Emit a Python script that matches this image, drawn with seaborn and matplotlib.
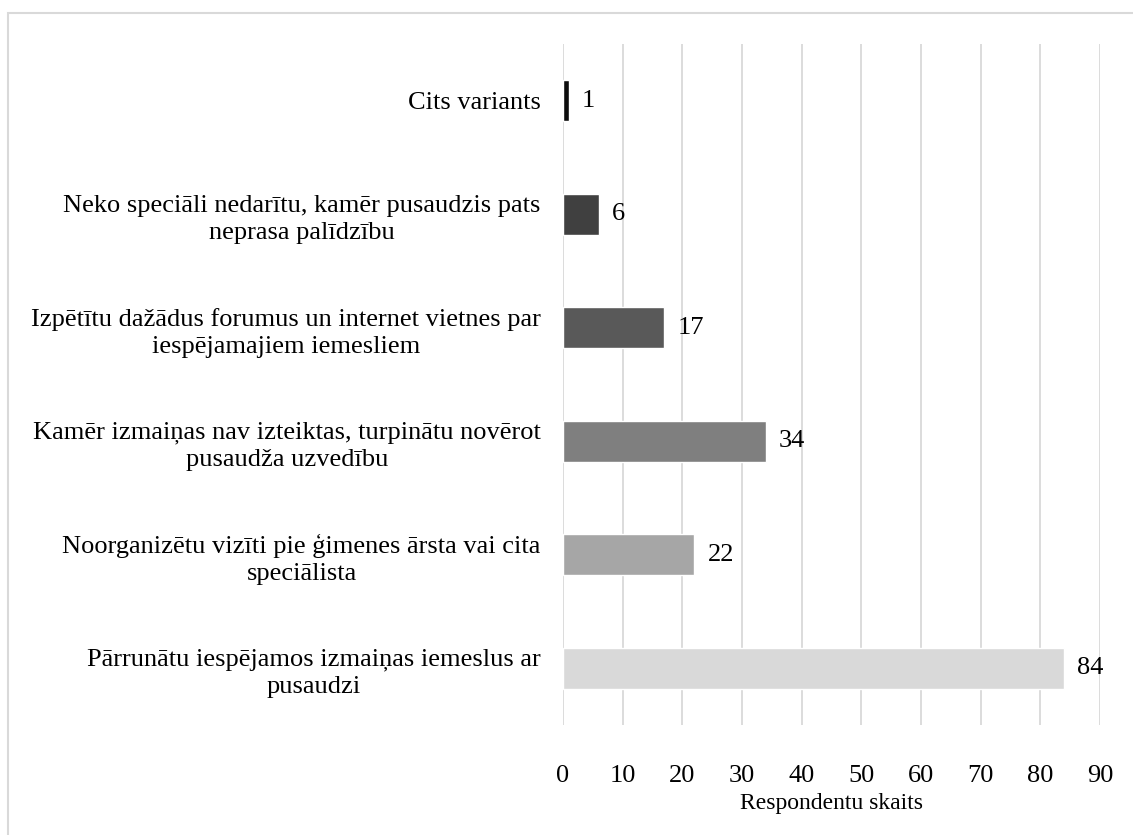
import matplotlib
matplotlib.use("Agg")
import matplotlib.pyplot as plt
import seaborn as sns
import pandas as pd
from matplotlib.patches import Rectangle

# Data (top to bottom)
categories = [
    "Cits variants",
    "Neko speciāli nedarītu, kamēr pusaudzis pats\nneprasa palīdzību",
    "Izpētītu dažādus forumus un internet vietnes par\niespējamajiem iemesliem",
    "Kamēr izmaiņas nav izteiktas, turpinātu novērot\npusaudža uzvedību",
    "Noorganizētu vizīti pie ģimenes ārsta vai cita\nspeciālista",
    "Pārrunātu iespējamos izmaiņas iemeslus ar\npusaudzi",
]
counts = [1, 6, 17, 34, 22, 84]
bar_colors = ["#0d0d0d", "#404040", "#595959", "#7f7f7f", "#a6a6a6", "#d9d9d9"]
x_ticks = [0, 10, 20, 30, 40, 50, 60, 70, 80, 90]

df = pd.DataFrame({"label": categories, "count": counts})

sns.set_style("white")
plt.rcParams["font.family"] = ["Liberation Serif", "DejaVu Serif"]
plt.rcParams["text.color"] = "black"
plt.rcParams["xtick.color"] = "black"
plt.rcParams["ytick.color"] = "black"
plt.rcParams["axes.labelcolor"] = "black"
fs = 19

fig = plt.figure(figsize=(11.33, 8.35), dpi=100)
ax = fig.add_axes([563 / 1133, 1 - 725 / 835, (1100 - 563) / 1133, (725 - 44) / 835])

sns.barplot(data=df, x="count", y="label", hue="label", palette=bar_colors,
            legend=False, width=0.36, saturation=1, ax=ax, zorder=3)

# value labels
for i, v in enumerate(counts):
    ax.text(v + 2.2, i, str(v), va="center", ha="left", fontsize=fs, color="black")

ax.set_xlim(0, 90)
ax.set_ylim(5.5, -0.5)
ax.set_xticks(x_ticks)
ax.xaxis.grid(True, color="#d9d9d9", linewidth=1.3, zorder=0)
ax.yaxis.grid(False)
for s in ax.spines.values():
    s.set_visible(False)
ax.tick_params(axis="x", length=0, pad=29, labelsize=fs, labelcolor="black")
ax.tick_params(axis="y", length=0, pad=16, labelsize=fs, labelcolor="black")
for lbl in ax.get_yticklabels():
    lbl.set_multialignment("center")
    lbl.set_linespacing(1.3)
ax.set_ylabel("")
ax.set_xlabel("Respondentu skaits", fontsize=17, labelpad=4, color="black")

# outer frame of the chart area
fig.patches.append(Rectangle((8 / 1133, -0.1), 1.2, 1 - 13 / 835 + 0.1,
                             transform=fig.transFigure, fill=False,
                             edgecolor="#d9d9d9", linewidth=1.5))

fig.savefig("out.png", dpi=100)
